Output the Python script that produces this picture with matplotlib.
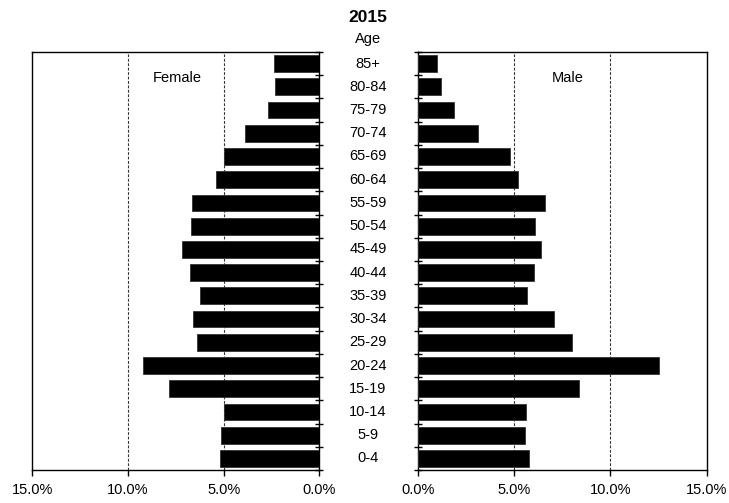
import matplotlib
matplotlib.use("Agg")
import matplotlib.pyplot as plt
import matplotlib.transforms as mtransforms
import numpy as np

plt.rcParams['font.family'] = ['Liberation Sans', 'DejaVu Sans']

title = "2015"
age_groups = ["0-4", "5-9", "10-14", "15-19", "20-24", "25-29", "30-34", "35-39",
              "40-44", "45-49", "50-54", "55-59", "60-64", "65-69", "70-74",
              "75-79", "80-84", "85+"]
female = [5.2, 5.15, 5.0, 7.85, 9.2, 6.4, 6.6, 6.25, 6.75, 7.15, 6.7, 6.65,
          5.4, 5.0, 3.9, 2.7, 2.3, 2.35]
male = [5.8, 5.55, 5.6, 8.35, 12.55, 8.0, 7.05, 5.65, 6.05, 6.4, 6.1, 6.6,
        5.2, 4.8, 3.15, 1.9, 1.2, 1.0]
xticks = [0, 5, 10, 15]
xtick_labels = ["0.0%", "5.0%", "10.0%", "15.0%"]

W, H = 729, 503
fig = plt.figure(figsize=(W / 100, H / 100), dpi=100)

top_px, bot_px = 52, 470
axL = fig.add_axes([32.3 / W, (H - bot_px) / H, 287 / W, (bot_px - top_px) / H])
axR = fig.add_axes([417.7 / W, (H - bot_px) / H, 289 / W, (bot_px - top_px) / H])

y = np.arange(len(age_groups))

for ax, vals in ((axL, female), (axR, male)):
    ax.barh(y, vals, height=0.72, color='black', edgecolor='#333333', linewidth=0.6, zorder=3)
    ax.set_xlim(0, 15)
    ax.set_ylim(-0.5, len(age_groups) - 0.5)
    for g in (5, 10):
        ax.axvline(g, color='#333333', linestyle=(0, (2.5, 1.5)), linewidth=0.8, zorder=1)
    ax.set_xticks(xticks)
    ax.set_xticklabels(xtick_labels, fontsize=10.5)
    ax.tick_params(axis='x', direction='out', length=4, width=1, pad=5, colors='black')
    ax.set_yticks(np.arange(-0.5, len(age_groups), 1.0))
    ax.set_yticklabels([])
    for s in ax.spines.values():
        s.set_color('black')
        s.set_linewidth(1.0)

axL.invert_xaxis()
axL.yaxis.tick_right()
axL.tick_params(axis='y', direction='inout', length=6, width=1)
axR.yaxis.tick_left()
axR.tick_params(axis='y', direction='inout', length=6, width=1)

# Age labels in the middle
trans = mtransforms.blended_transform_factory(fig.transFigure, axL.transData)
for yi, lab in zip(y, age_groups):
    fig.text(368 / W, yi, lab, transform=trans, ha='center', va='center', fontsize=10.5)

fig.text(368 / W, 1 - 39 / H, "Age", ha='center', va='center', fontsize=10.5)
fig.text(368 / W, 1 - 18 / H, title, ha='center', va='center', fontsize=12.5, fontweight='bold')

axL.text(7.4, 16.38, "Female", ha='center', va='center', fontsize=10.5)
axR.text(7.8, 16.38, "Male", ha='center', va='center', fontsize=10.5)

fig.savefig("out.png", dpi=100)
